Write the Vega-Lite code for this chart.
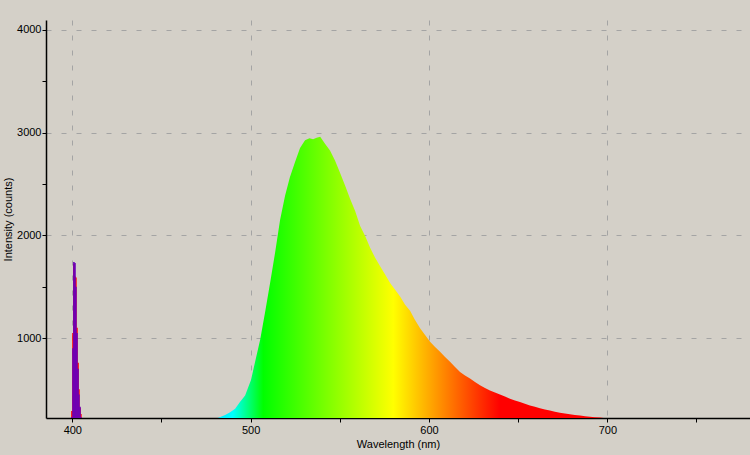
{
  "$schema": "https://vega.github.io/schema/vega-lite/v6.json",
  "width": 704,
  "height": 398,
  "autosize": "none",
  "padding": {"left": 46, "top": 20, "right": 0, "bottom": 37},
  "background": "#d4d0c8",
  "config": {
    "view": {"stroke": null},
    "font": "Liberation Sans",
    "axis": {
      "domainColor": "#000000",
      "domainWidth": 1.5,
      "tickColor": "#000000",
      "tickSize": 4,
      "tickWidth": 1,
      "labelColor": "#000000",
      "labelFont": "Liberation Sans",
      "labelFontSize": 11,
      "titleColor": "#000000",
      "titleFont": "Liberation Sans",
      "titleFontSize": 11,
      "titleFontWeight": "normal",
      "gridColor": "#a4a4a4",
      "gridDash": [5, 10],
      "gridWidth": 1
    }
  },
  "datasets": {
    "spectrum": [
      {"wl": 481.5, "counts": 222},
      {"wl": 484.0, "counts": 238},
      {"wl": 485.7, "counts": 250},
      {"wl": 488.5, "counts": 278},
      {"wl": 491.3, "counts": 312},
      {"wl": 494.0, "counts": 376},
      {"wl": 496.9, "counts": 441},
      {"wl": 498.7, "counts": 523},
      {"wl": 500.2, "counts": 590},
      {"wl": 502.5, "counts": 768},
      {"wl": 505.3, "counts": 980},
      {"wl": 508.0, "counts": 1242},
      {"wl": 510.9, "counts": 1536},
      {"wl": 513.7, "counts": 1830},
      {"wl": 516.5, "counts": 2150},
      {"wl": 519.3, "counts": 2385},
      {"wl": 522.0, "counts": 2566},
      {"wl": 524.9, "counts": 2713},
      {"wl": 527.7, "counts": 2850},
      {"wl": 530.5, "counts": 2925},
      {"wl": 533.0, "counts": 2945},
      {"wl": 535.0, "counts": 2935},
      {"wl": 537.0, "counts": 2950},
      {"wl": 539.0, "counts": 2960},
      {"wl": 541.7, "counts": 2892},
      {"wl": 544.5, "counts": 2826},
      {"wl": 547.3, "counts": 2728},
      {"wl": 550.0, "counts": 2614},
      {"wl": 553.0, "counts": 2483},
      {"wl": 555.8, "counts": 2353},
      {"wl": 558.6, "counts": 2238},
      {"wl": 561.4, "counts": 2091},
      {"wl": 564.2, "counts": 1993},
      {"wl": 567.0, "counts": 1879},
      {"wl": 569.8, "counts": 1781},
      {"wl": 572.6, "counts": 1699},
      {"wl": 575.4, "counts": 1618},
      {"wl": 578.2, "counts": 1536},
      {"wl": 581.0, "counts": 1471},
      {"wl": 583.8, "counts": 1405},
      {"wl": 586.6, "counts": 1324},
      {"wl": 589.4, "counts": 1265},
      {"wl": 592.0, "counts": 1180},
      {"wl": 595.0, "counts": 1095},
      {"wl": 597.8, "counts": 1030},
      {"wl": 600.6, "counts": 964},
      {"wl": 603.4, "counts": 912},
      {"wl": 606.2, "counts": 866},
      {"wl": 609.0, "counts": 815},
      {"wl": 611.8, "counts": 768},
      {"wl": 614.6, "counts": 718},
      {"wl": 617.4, "counts": 670},
      {"wl": 620.2, "counts": 636},
      {"wl": 623.0, "counts": 605},
      {"wl": 625.8, "counts": 572},
      {"wl": 628.6, "counts": 539},
      {"wl": 631.4, "counts": 514},
      {"wl": 634.2, "counts": 490},
      {"wl": 637.0, "counts": 470},
      {"wl": 639.8, "counts": 451},
      {"wl": 642.6, "counts": 430},
      {"wl": 645.4, "counts": 409},
      {"wl": 648.2, "counts": 392},
      {"wl": 651.0, "counts": 376},
      {"wl": 653.8, "counts": 360},
      {"wl": 656.6, "counts": 343},
      {"wl": 659.4, "counts": 330},
      {"wl": 662.2, "counts": 317},
      {"wl": 665.0, "counts": 305},
      {"wl": 667.8, "counts": 294},
      {"wl": 670.6, "counts": 283},
      {"wl": 673.4, "counts": 272},
      {"wl": 676.2, "counts": 265},
      {"wl": 679.0, "counts": 258},
      {"wl": 681.8, "counts": 251},
      {"wl": 684.7, "counts": 245},
      {"wl": 687.5, "counts": 238},
      {"wl": 690.3, "counts": 232},
      {"wl": 693.0, "counts": 228},
      {"wl": 695.9, "counts": 225},
      {"wl": 698.0, "counts": 222}
    ],
    "laserRaw": [
      {"wl": 399.8, "counts": 290},
      {"wl": 400.4, "counts": 1050},
      {"wl": 400.9, "counts": 1720},
      {"wl": 401.5, "counts": 1600},
      {"wl": 402.0, "counts": 1590},
      {"wl": 402.6, "counts": 1100},
      {"wl": 403.2, "counts": 760},
      {"wl": 403.7, "counts": 500},
      {"wl": 404.3, "counts": 320},
      {"wl": 404.8, "counts": 260}
    ],
    "laser": [
      {"wl": 399.8, "counts": 230},
      {"wl": 400.4, "counts": 900},
      {"wl": 400.9, "counts": 1740},
      {"wl": 401.5, "counts": 1730},
      {"wl": 402.0, "counts": 1500},
      {"wl": 402.6, "counts": 1050},
      {"wl": 403.2, "counts": 700},
      {"wl": 403.7, "counts": 450},
      {"wl": 404.3, "counts": 330},
      {"wl": 404.8, "counts": 230}
    ]
  },
  "encoding": {
    "x": {
      "field": "wl",
      "type": "quantitative",
      "scale": {"domain": [385.25, 780], "nice": false, "zero": false, "padding": 0},
      "axis": {
        "title": "Wavelength (nm)",
        "values": [400, 450, 500, 550, 600, 650, 700, 750],
        "labelExpr": "datum.value % 100 === 0 ? datum.label : ''",
        "format": "d",
        "labelPadding": 2,
        "titlePadding": 3,
        "grid": true,
        "gridOpacity": {"condition": {"test": "datum.value % 100 === 0", "value": 1}, "value": 0}
      }
    },
    "y": {
      "field": "counts",
      "type": "quantitative",
      "scale": {"domain": [221, 4097], "nice": false, "zero": false, "padding": 0},
      "axis": {
        "title": "Intensity (counts)",
        "values": [1000, 1500, 2000, 2500, 3000, 3500, 4000],
        "labelExpr": "datum.value % 1000 === 0 ? datum.label : ''",
        "format": "d",
        "labelPadding": 1,
        "titlePadding": 3,
        "grid": true,
        "gridOpacity": {"condition": {"test": "datum.value % 1000 === 0", "value": 1}, "value": 0}
      }
    }
  },
  "layer": [
    {
      "data": {"name": "spectrum"},
      "mark": {
        "type": "area",
        "clip": true,
        "fill": {
          "gradient": "linear",
          "x1": 0, "y1": 0, "x2": 1, "y2": 0,
          "stops": [
            {"offset": 0, "color": "#00e8ff"},
            {"offset": 0.039, "color": "#00ffff"},
            {"offset": 0.118, "color": "#00ff00"},
            {"offset": 0.455, "color": "#ffff00"},
            {"offset": 0.732, "color": "#ff0000"},
            {"offset": 1, "color": "#ff0000"}
          ]
        }
      }
    },
    {
      "data": {"name": "laserRaw"},
      "mark": {"type": "bar", "clip": true, "color": "#ff0000", "width": 1.6}
    },
    {
      "data": {"name": "laser"},
      "mark": {"type": "bar", "clip": true, "color": "#6a00b8", "width": 1.6}
    }
  ]
}
